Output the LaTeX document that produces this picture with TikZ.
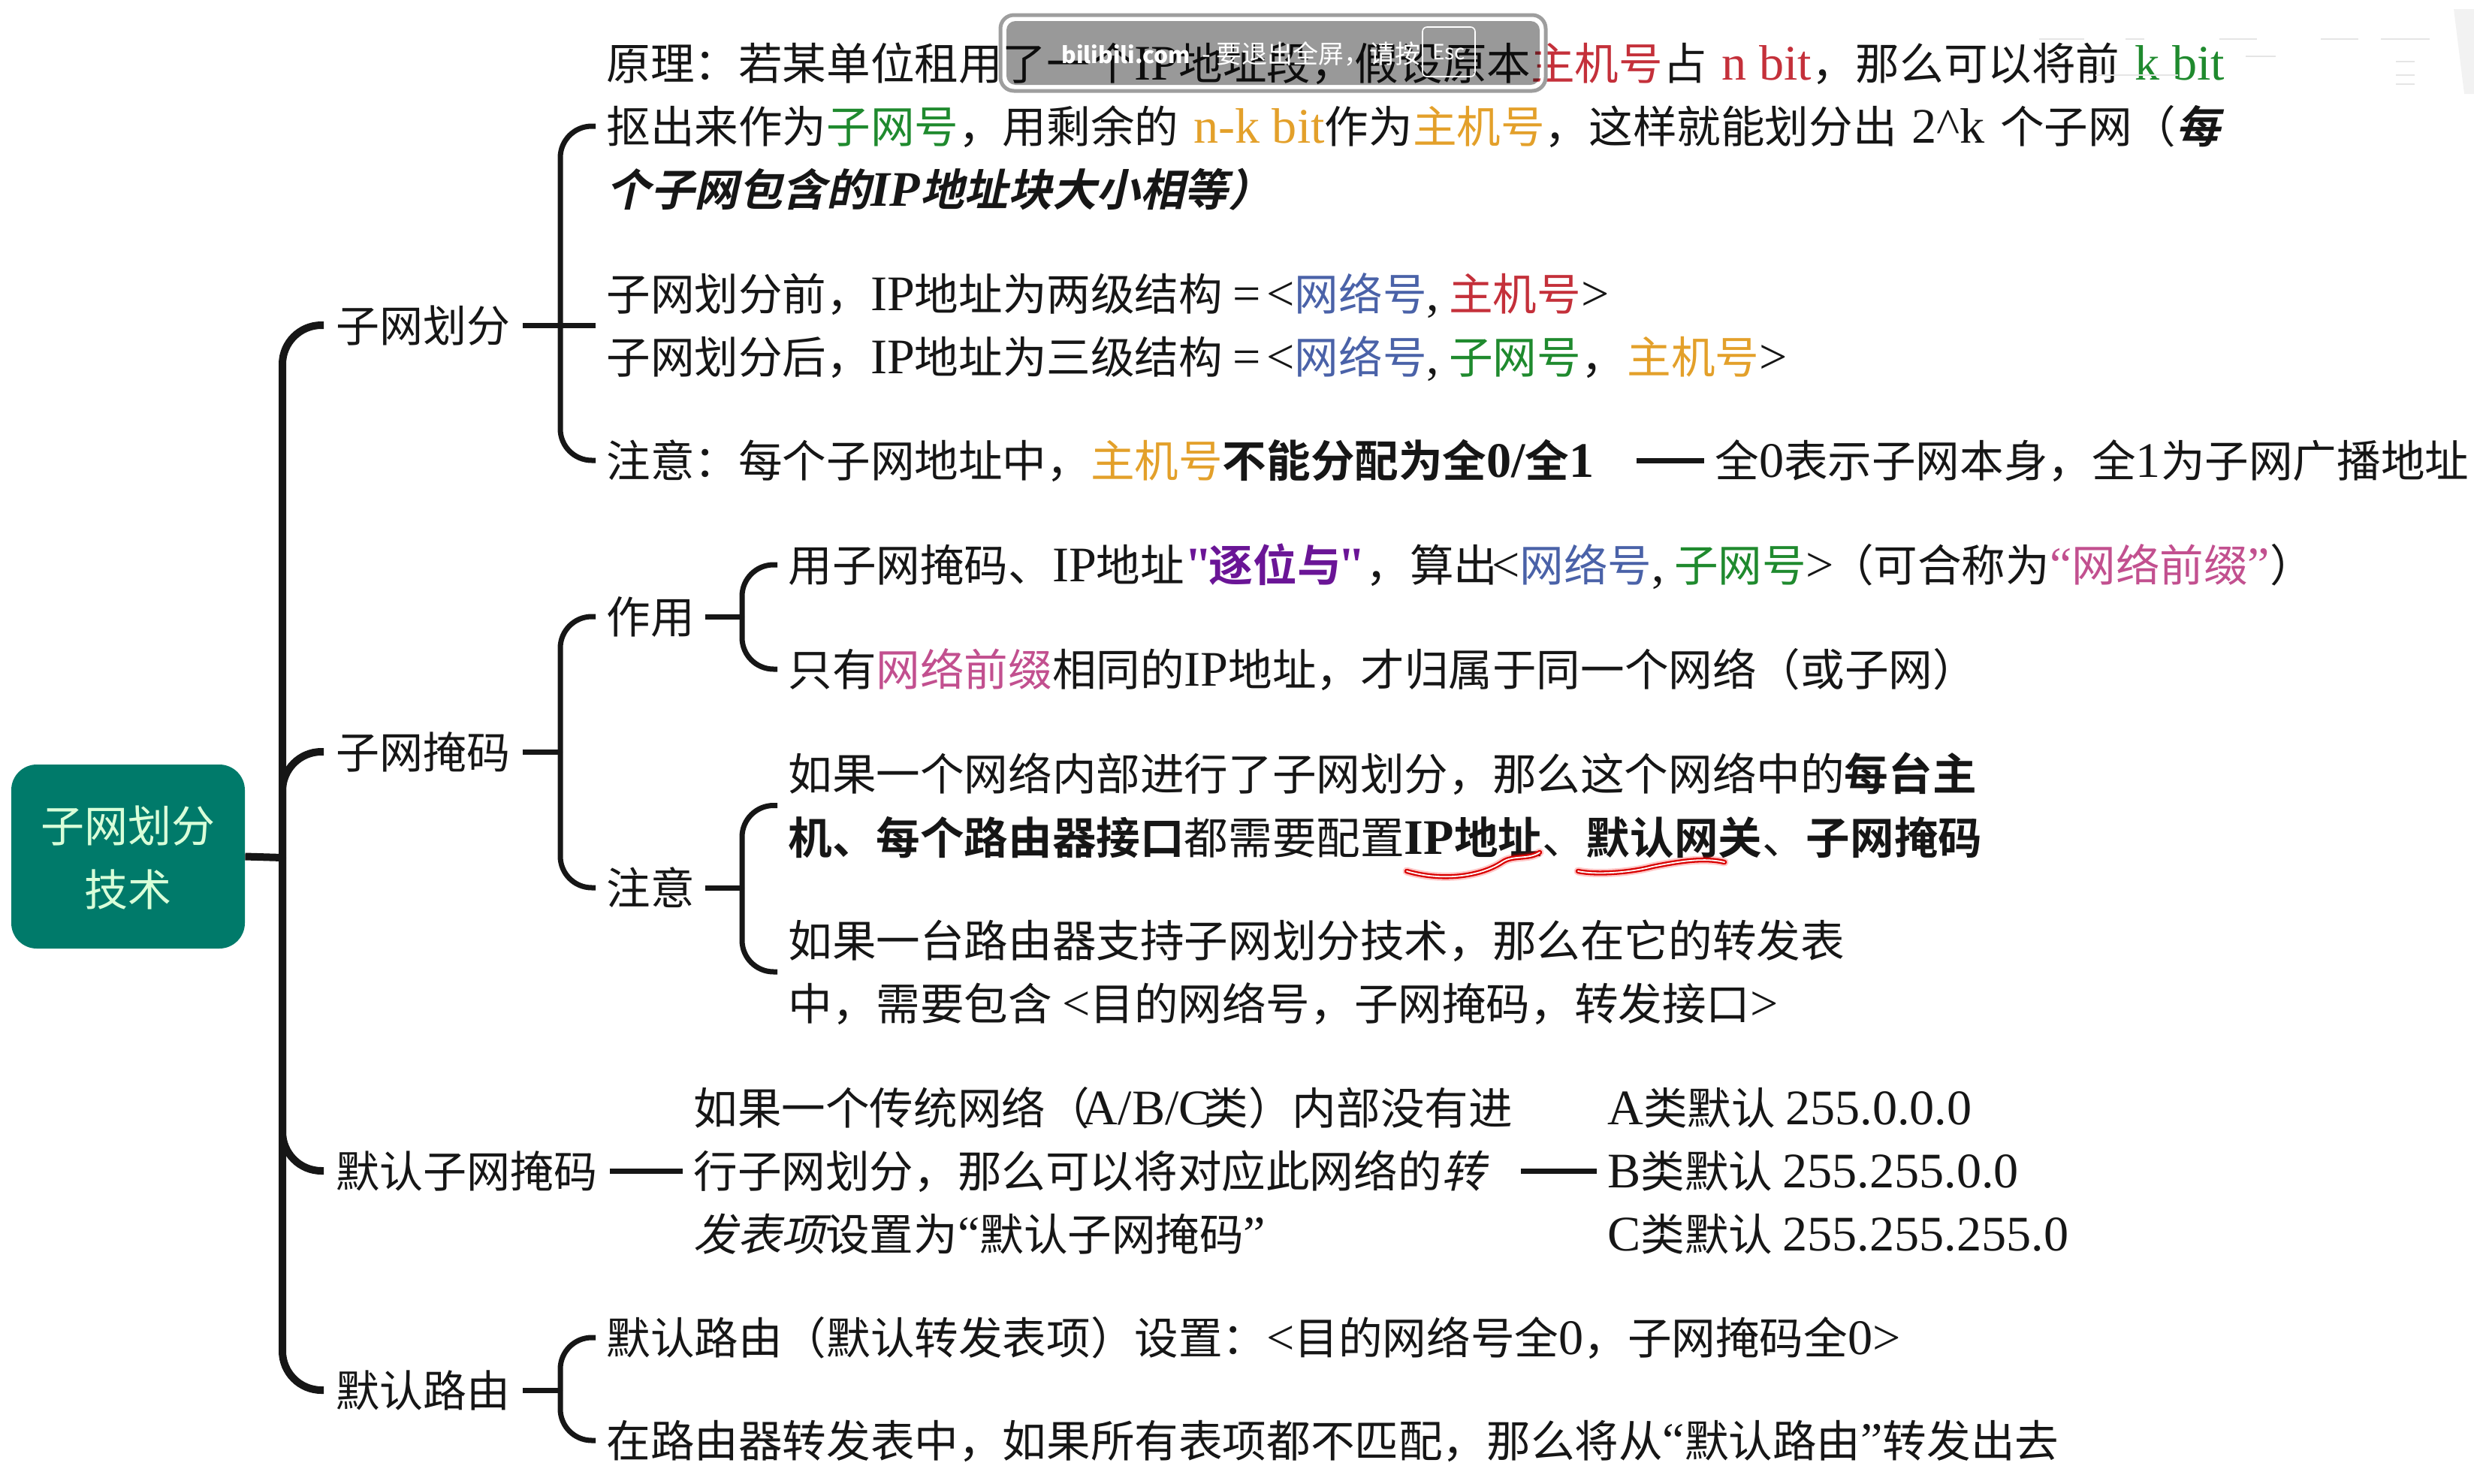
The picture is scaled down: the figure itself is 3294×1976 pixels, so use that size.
\documentclass[tikz,border=0pt]{standalone}
\usepackage{fontspec}
\usetikzlibrary{calc}
\setmainfont{Noto Sans CJK SC}[BoldFont={Noto Sans CJK SC Bold},ItalicFont={Noto Sans CJK SC},BoldItalicFont={Noto Sans CJK SC Bold},ItalicFeatures={FakeSlant=0.22},BoldItalicFeatures={FakeSlant=0.22}]
\newfontfamily\latf{Liberation Serif}[Scale=1.13]
\newfontfamily\banf{Noto Sans CJK SC}
\newcommand{\la}[1]{{\latf #1}}
\definecolor{cred}{HTML}{C4303A}
\definecolor{corg}{HTML}{E3A02A}
\definecolor{cgrn}{HTML}{1F8A2E}
\definecolor{cblu}{HTML}{4A62A8}
\definecolor{cpnk}{HTML}{C2508F}
\definecolor{cpur}{HTML}{6A1596}
\definecolor{croot}{HTML}{007A6A}
\definecolor{cink}{HTML}{161616}
\newcommand{\hlr}[1]{\textcolor{cred}{#1}}
\newcommand{\hlo}[1]{\textcolor{corg}{#1}}
\newcommand{\hlg}[1]{\textcolor{cgrn}{#1}}
\newcommand{\hlb}[1]{\textcolor{cblu}{#1}}
\newcommand{\hlp}[1]{\textcolor{cpnk}{#1}}
\newcommand{\gap}{\hspace{10pt}}
\newcommand{\kn}[1]{\hspace{-#1pt}}
\tikzset{
  txt/.style={anchor=west,inner ysep=0pt,inner xsep=7pt,text height=25.8pt,text depth=3.5pt,
     font=\fontsize{29.3}{29.3}\selectfont,text=cink},
  branch/.style={txt,inner xsep=8pt,font=\fontsize{29}{29}\selectfont},
  rootbox/.style={rectangle,rounded corners=17pt,fill=croot,minimum width=155.5pt,minimum height=122.5pt,inner sep=0pt},
  trunk/.style={draw=cink,line width=5pt,rounded corners=26pt},
  stem/.style={draw=cink,line width=3.5pt},
  brace/.style={draw=cink,line width=3.5pt,rounded corners=21pt},
  banfont/.style={inner sep=0pt,text=white,font=\banf\fontsize{17}{17}\selectfont},
  ghost/.style={draw=black!10,line width=.8pt},
}
\begin{document}
\begin{tikzpicture}[x=0.5pt,y=-0.5pt]
\useasboundingbox (0,0) rectangle (3294,1976);
% root
\node[rootbox] (root) at (170.5,1140.5) {};
\node[inner sep=0pt,text=white!85!green,font=\fontsize{29}{29}\selectfont] (rootA) at (170.5,1100) {子网划分};
\node[inner sep=0pt,text=white!85!green,font=\fontsize{29}{29}\selectfont] (rootB) at (170.5,1184) {技术};
% branch labels
\node[branch] (n1) at (431,433) {子网划分};
\node[branch] (n2) at (431,1001) {子网掩码};
\node[branch] (n3) at (431,1559) {默认子网掩码};
\node[branch] (n4) at (431,1851) {默认路由};
% 子网划分 lines
\node[txt] (a1) at (793,84) {原理：若某单位租用了一个\la{IP}地址段，假设原本\hlr{主机号}占\gap{}\hlr{\la{n bit}}，那么可以将前\gap{}\hlg{\la{k bit}}};
\node[txt] (a2) at (793,168) {抠出来作为\hlg{子网号}，用剩余的\gap{}\hlo{\la{n-k bit}}作为\hlo{主机号}，这样就能划分出\gap{}\la{2\^{}k}\gap{}个子网（\textbf{\itshape 每}};
\node[txt] (a3) at (793,252) {\bfseries\itshape 个子网包含的\la{IP}地址块大小相等）};
\node[txt] (a4) at (793,391) {子网划分前，\la{IP}地址为两级结构 \la{=}\hspace{4pt}\la{<}\hlb{网络号}\la{,} \hlr{主机号}\la{>}};
\node[txt] (a5) at (793,475) {子网划分后，\la{IP}地址为三级结构 \la{=}\hspace{4pt}\la{<}\hlb{网络号}\la{,} \hlg{子网号}，\hspace{1.5pt}\hlo{主机号}\la{>}};
\node[txt] (a6) at (793,613) {注意：每个子网地址中，\hlo{主机号}\textbf{不能分配为全\la{0/}全\la{1}}};
\node[txt] (a7) at (2269,613) {全\la{0}表示子网本身，全\la{1}为子网广播地址};
% 子网掩码
\node[txt] (b1) at (793,821) {作用};
\node[txt] (b2) at (793,1182) {注意};
\node[txt] (c1) at (1035,752) {用子网掩码、\la{IP}地址\textcolor{cpur}{\bfseries\la{"}\kn{2}逐位与\kn{2}\la{"}}，算出\kn{4}\la{<}\hlb{网络号}\la{,} \hlg{子网号}\la{>}\kn{3}（可合称为\hlp{\la{“}网络前缀\la{”}}）};
\node[txt] (c2) at (1035,891) {只有\hlp{网络前缀}相同的\la{IP}地址，才归属于同一个网络（或子网）};
\node[txt] (d1) at (1035,1030) {如果一个网络内部进行了子网划分，那么这个网络中的\textbf{每台主}};
\node[txt] (d2) at (1035,1115) {\textbf{机、每个路由器接口}都需要配置\textbf{\la{IP}地址}、\textbf{默认网关}、\textbf{子网掩码}};
\node[txt] (d3) at (1035,1252) {如果一台路由器支持子网划分技术，那么在它的转发表};
\node[txt] (d4) at (1035,1336) {中，需要包含 \la{<}目的网络号，子网掩码，转发接口\la{>}};
% 默认子网掩码
\node[txt] (e1) at (909,1475) {如果一个传统网络（\kn{5}\la{A/B/C}\kn{5}类）内部没有进};
\node[txt] (e2) at (909,1559) {行子网划分，那么可以将对应此网络的\textit{转}};
\node[txt] (e3) at (909,1643) {\textit{发表项}设置为\la{“}默认子网掩码\la{”}};
\node[txt] (f1) at (2126,1475) {\la{A}类默认 \la{255.0.0.0}};
\node[txt] (f2) at (2126,1559) {\la{B}类默认 \la{255.255.0.0}};
\node[txt] (f3) at (2126,1643) {\la{C}类默认 \la{255.255.255.0}};
% 默认路由
\node[txt] (g1) at (793,1781) {默认路由（默认转发表项）设置：\la{<}目的网络号全\la{0}，子网掩码全\la{0>}};
\node[txt] (g2) at (793,1918) {在路由器转发表中，如果所有表项都不匹配，那么将从\la{“}默认路由\la{”}转发出去};
% trunk
\coordinate (tk) at (376,1142);
\draw[stem,line width=5pt] (root.east) -- (tk);
\draw[trunk] (n1.west) -| (tk);
\draw[trunk] (n4.west) -| (tk);
\draw[trunk] (n2.west) -| (tk);
\draw[trunk] (n3.west) -| (tk);
% 子网划分 bracket
\coordinate (s1) at (746,433);
\draw[stem] (n1.east) -- (793,433);
\draw[brace] (a2.west) -| (s1);
\draw[brace] (a6.west) -| (s1);
% 子网掩码 bracket
\coordinate (s2) at (746,1001);
\draw[stem] (n2.east) -- (s2);
\draw[brace] (b1.west) -| (s2);
\draw[brace] (b2.west) -| (s2);
\coordinate (s3) at (988,821);
\draw[stem] (b1.east) -- (s3);
\draw[brace] (c1.west) -| (s3);
\draw[brace] (c2.west) -| (s3);
\coordinate (s4) at (988,1182);
\coordinate (d12) at ($(d1.west)!.5!(d2.west)$);
\coordinate (d34) at ($(d3.west)!.5!(d4.west)$);
\draw[stem] (b2.east) -- (s4);
\draw[brace] (d12) -| (s4);
\draw[brace] (d34) -| (s4);
% 默认子网掩码
\draw[stem] (n3.east) -- (e2.west);
\draw[stem,shorten <=16pt] (e2.east) -- (f2.west);
% 注意 line
\draw[stem,shorten <=21pt] (a6.east) -- (a7.west);
% 默认路由
\coordinate (s5) at (746,1851);
\draw[stem] (n4.east) -- (s5);
\draw[brace] (g1.west) -| (s5);
\draw[brace] (g2.west) -| (s5);
% red pen strokes
\coordinate (u1a) at (1873,1160);
\coordinate (u1b) at (2050,1135);
\coordinate (u2a) at (2101,1160);
\coordinate (u2b) at (2296,1148);
\foreach \w/\c/\o in {5.5pt/red/0.22,3.2pt/red!85!black/1,0.9pt/white/1}{
  \draw[line width=\w,\c,opacity=\o,line cap=round] (u1a) .. controls (1925,1175) and (1975,1165) .. (2000,1148) .. controls (2015,1138) and (2035,1145) .. (u1b);
  \draw[line width=\w,\c,opacity=\o,line cap=round] (u2a) .. controls (2125,1165) and (2170,1162) .. (2200,1154) .. controls (2240,1146) and (2270,1142) .. (u2b);
}
% fullscreen banner
\fill[black,opacity=.4,rounded corners=6pt] (1340,28) rectangle (2050,113);
\draw[white,line width=2.5pt,rounded corners=7pt] (1336,24) rectangle (2054,117);
\draw[black!38,line width=2.5pt,rounded corners=9pt] (1332,20) rectangle (2058,121);
\node[banfont,anchor=west,font=\banf\bfseries\fontsize{15}{15}\selectfont] (bn1) at (1413,72) {bilibili.com};
\node[banfont,anchor=west] (bn2) at (1600,72) {- 要退出全屏，请按};
\node[banfont,draw=white,line width=.8pt,rounded corners=3pt,minimum width=35pt,minimum height=33pt,font=\banf\fontsize{14}{14}\selectfont] (bn3) at (1929,69) {Esc};
% faint remains of a fading overlay at the top right
\fill[black!5] (3267,12) -- (3294,12) -- (3294,125) -- (3281,125) -- cycle;
\draw[ghost] (2715,52) -- (2775,52);
\draw[ghost] (2830,52) -- (2855,52) (2955,52) -- (3005,52) (3090,52) -- (3140,52) (3170,52) -- (3235,52);
\draw[ghost] (2790,100) -- (2900,100) (2990,75) -- (3030,75);
\draw[ghost] (3190,82) -- (3215,82) (3190,100) -- (3215,100) (3190,112) -- (3215,112);
\end{tikzpicture}
\end{document}
